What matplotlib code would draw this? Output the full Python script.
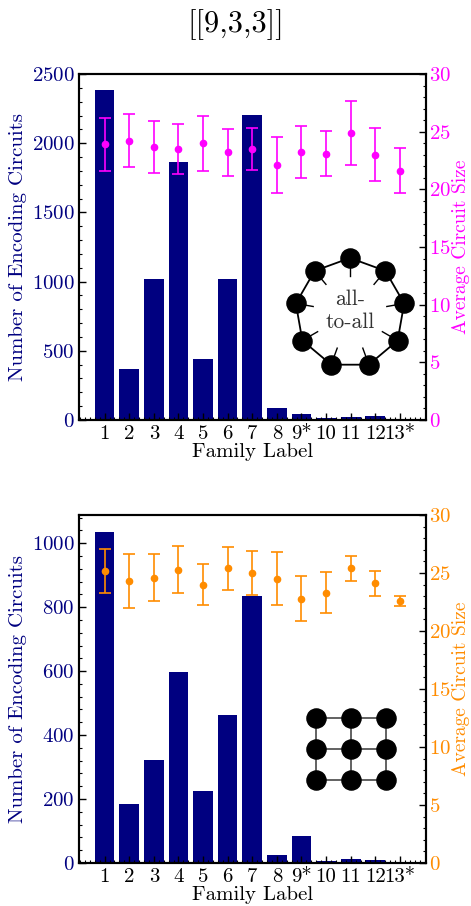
import matplotlib
matplotlib.use("Agg")
import matplotlib.pyplot as plt
import numpy as np
from matplotlib.ticker import MultipleLocator

plt.rcParams['font.family'] = 'serif'
plt.rcParams['font.serif'] = ['cmr10']
plt.rcParams['mathtext.fontset'] = 'cm'
plt.rcParams['axes.unicode_minus'] = False
plt.rcParams['axes.formatter.use_mathtext'] = True

families = ['1', '2', '3', '4', '5', '6', '7', '8', '9*', '10', '11', '12', '13*']

# top panel: all-to-all connectivity
counts_a2a = [2384, 372, 1022, 1862, 442, 1022, 2203, 88, 44, 14, 22, 29, 7]
size_a2a = [23.9, 24.2, 23.7, 23.5, 24.0, 23.2, 23.5, 22.1, 23.2, 23.1, 24.9, 23.0, 21.6]
err_a2a = [2.3, 2.3, 2.25, 2.2, 2.4, 2.05, 1.85, 2.45, 2.25, 1.95, 2.8, 2.3, 1.95]

# bottom panel: 3x3 grid connectivity
counts_grid = [1034, 185, 323, 597, 226, 463, 835, 26, 85, 7, 14, 10, 1]
size_grid = [25.2, 24.3, 24.6, 25.3, 24.0, 25.4, 25.0, 24.5, 22.8, 23.3, 25.4, 24.1, 22.6]
err_grid = [1.9, 2.3, 2.05, 2.0, 1.8, 1.85, 1.9, 2.3, 1.9, 1.75, 1.05, 1.1, 0.45]

navy = '#000080'
TICK = 15
LAB = 15

fig = plt.figure(figsize=(4.71, 9.06), dpi=100)
W, H = 471, 906


def panel(top_px, bot_px, counts, sizes, errs, ymax, ystep, ecolor):
    ax = fig.add_axes([79 / W, 1 - bot_px / H, (426 - 79) / W, (bot_px - top_px) / H])
    x = np.arange(1, len(families) + 1)
    ax.bar(x, counts, width=0.8, color=navy)
    ax.set_xlim(-0.04, 14.06)
    ax.set_ylim(0, ymax)
    ax.set_xticks(x)
    ax.set_xticklabels(families)
    ax.xaxis.set_minor_locator(MultipleLocator(0.2))
    ax.yaxis.set_major_locator(MultipleLocator(ystep))
    ax.yaxis.set_minor_locator(MultipleLocator(ystep / 5))
    ax.tick_params(which='both', direction='in', labelsize=TICK, pad=3)
    ax.tick_params(which='major', length=5, width=1)
    ax.tick_params(which='minor', length=2.5, width=0.8)
    ax.tick_params(axis='y', which='both', color='black', labelcolor=navy)
    ax.tick_params(axis='x', labelcolor='black', pad=4)
    ax.set_xlabel('Family Label', fontsize=LAB, labelpad=0)
    ax.set_ylabel('Number of Encoding Circuits', fontsize=LAB, color=navy)
    ax.yaxis.set_label_coords(-0.15, 0.5)
    for s in ax.spines.values():
        s.set_linewidth(1.5)

    ax2 = ax.twinx()
    ax2.errorbar(x, sizes, yerr=errs, fmt='o', color=ecolor, ms=4.5,
                 elinewidth=1.2, capsize=4, capthick=1.2)
    ax2.set_ylim(0, 30)
    ax2.yaxis.set_major_locator(MultipleLocator(5))
    ax2.yaxis.set_minor_locator(MultipleLocator(1))
    ax2.tick_params(which='both', direction='in', labelsize=TICK, labelcolor=ecolor, pad=2)
    ax2.tick_params(which='major', length=5, width=1)
    ax2.tick_params(which='minor', length=2.5, width=0.8)
    ax2.set_ylabel('Average Circuit Size', fontsize=14, color=ecolor)
    ax2.yaxis.set_label_coords(1.076, 0.5)
    for s in ax2.spines.values():
        s.set_linewidth(1.5)
    return ax


panel(74, 420, counts_a2a, size_a2a, err_a2a, 2500, 500, '#ff00ff')
panel(515, 863, counts_grid, size_grid, err_grid, 1088, 200, '#ff8c00')

fig.text(0.5, 1 - 25 / H, '[[9,3,3]]', ha='center', va='center', fontsize=22)

# inset: nine qubits on a ring, all-to-all
cx, cy, r = 350, 313, 55
ins = fig.add_axes([(cx - 70) / W, 1 - (cy + 70) / H, 140 / W, 140 / H])
ins.set_xlim(-70, 70)
ins.set_ylim(-70, 70)
ins.set_aspect('equal')
ins.axis('off')
ang = np.pi / 2 + np.arange(9) * 2 * np.pi / 9
px, py = r * np.cos(ang), r * np.sin(ang)
ins.plot(np.append(px, px[0]), np.append(py, py[0]), color='black', lw=1.3, zorder=1)
for a in ang:
    ins.plot([0.68 * r * np.cos(a), 0.85 * r * np.cos(a)],
             [0.68 * r * np.sin(a), 0.85 * r * np.sin(a)], color='black', lw=1.0, zorder=1)
ins.scatter(px, py, s=190, color='black', zorder=2)
ins.text(0, 2, 'all-\nto-all', ha='center', va='center', fontsize=15.5,
         color='#333333', linespacing=1.25)

# inset: 3x3 grid
gx, gy = 351, 749
ins2 = fig.add_axes([(gx - 50) / W, 1 - (gy + 50) / H, 100 / W, 100 / H])
ins2.set_xlim(-50, 50)
ins2.set_ylim(-50, 50)
ins2.set_aspect('equal')
ins2.axis('off')
gxs = np.array([-35, 0, 35])
gys = np.array([-31, 0, 31])
for v in gys:
    ins2.plot([gxs[0], gxs[-1]], [v, v], color='#555555', lw=1.3, zorder=1)
for v in gxs:
    ins2.plot([v, v], [gys[0], gys[-1]], color='#555555', lw=1.3, zorder=1)
gxx, gyy = np.meshgrid(gxs, gys)
ins2.scatter(gxx.ravel(), gyy.ravel(), s=190, color='black', zorder=2)

fig.savefig('out.png', dpi=100)
